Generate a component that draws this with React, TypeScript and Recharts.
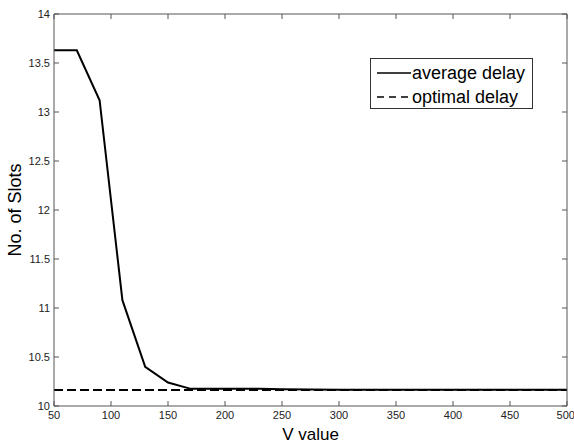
import { LineChart, Line, XAxis, YAxis } from "recharts";

const vValues = [50, 70, 90, 110, 130, 150, 170, 190, 210, 230, 250, 300, 350, 400, 450, 500];
const averageDelay = [13.63, 13.63, 13.12, 11.08, 10.4, 10.24, 10.175, 10.175, 10.175, 10.175, 10.172, 10.165, 10.165, 10.165, 10.165, 10.165];
const optimalDelay = [10.163, 10.163, 10.163, 10.163, 10.163, 10.163, 10.163, 10.163, 10.163, 10.163, 10.163, 10.163, 10.163, 10.163, 10.163, 10.163];

const xTicks = [50, 100, 150, 200, 250, 300, 350, 400, 450, 500];
const yTicks = [10, 10.5, 11, 11.5, 12, 12.5, 13, 13.5, 14];

const data = vValues.map((v, i) => ({
  v,
  avg: averageDelay[i],
  opt: optimalDelay[i],
}));

const FONT = "'Liberation Sans', Arial, sans-serif";
const AXIS = "#555";

function LegendBox() {
  const row = (dash: string | undefined, label: string) => (
    <div style={{ display: "flex", alignItems: "center", height: 24 }}>
      <svg width={36} height={10}>
        <line x1={2} y1={5} x2={36} y2={5} stroke="#000" strokeWidth={1.6} strokeDasharray={dash} />
      </svg>
      <span style={{ marginLeft: 1 }}>{label}</span>
    </div>
  );
  return (
    <div
      style={{
        position: "absolute",
        left: 370,
        top: 58,
        border: "1px solid #333",
        background: "#fff",
        width: 163,
        height: 51,
        boxSizing: "border-box",
        padding: "2px 0 0 4px",
        fontFamily: FONT,
        fontSize: 18,
        color: "#000",
        lineHeight: "24px",
      }}
    >
      {row(undefined, "average delay")}
      {row("7 5", "optimal delay")}
    </div>
  );
}

export default function App() {
  return (
    <div style={{ position: "absolute", left: 0, top: 0, width: 574, height: 443, background: "#fff" }}>
      <LineChart
        width={574}
        height={443}
        data={data}
        margin={{ top: 13, right: 6, bottom: 7, left: 10 }}
      >
        <XAxis
          dataKey="v"
          type="number"
          domain={[50, 500]}
          ticks={xTicks}
          allowDataOverflow
          height={30}
          stroke={AXIS}
          tickSize={-5}
          tickMargin={10}
          tick={{ fill: "#222", fontSize: 11, fontFamily: FONT }}
          label={{ value: "V value", position: "insideBottom", offset: -4, fill: "#000", fontSize: 17, fontFamily: FONT }}
        />
        <XAxis
          xAxisId="top"
          dataKey="v"
          orientation="top"
          type="number"
          domain={[50, 500]}
          ticks={xTicks}
          height={1}
          stroke={AXIS}
          tickSize={-5}
          tick={() => <g />}
        />
        <YAxis
          type="number"
          domain={[10, 14]}
          ticks={yTicks}
          allowDataOverflow
          width={44}
          stroke={AXIS}
          tickSize={-5}
          tickMargin={9}
          tick={{ fill: "#222", fontSize: 11, fontFamily: FONT }}
          label={{ value: "No. of Slots", angle: -90, position: "insideLeft", offset: 5, fill: "#000", fontSize: 18, fontFamily: FONT, style: { textAnchor: "middle" } }}
        />
        <YAxis
          yAxisId="right"
          orientation="right"
          type="number"
          domain={[10, 14]}
          ticks={yTicks}
          width={1}
          stroke={AXIS}
          tickSize={-5}
          tick={() => <g />}
        />
        <Line
          xAxisId="top"
          yAxisId="right"
          dataKey="opt"
          stroke="none"
          strokeWidth={0}
          dot={false}
          activeDot={false}
          isAnimationActive={false}
        />
        <Line
          dataKey="opt"
          stroke="#000"
          strokeWidth={2}
          strokeDasharray="9 4"
          dot={false}
          isAnimationActive={false}
        />
        <Line
          dataKey="avg"
          stroke="#000"
          strokeWidth={2}
          dot={false}
          isAnimationActive={false}
        />
      </LineChart>
      <LegendBox />
    </div>
  );
}
